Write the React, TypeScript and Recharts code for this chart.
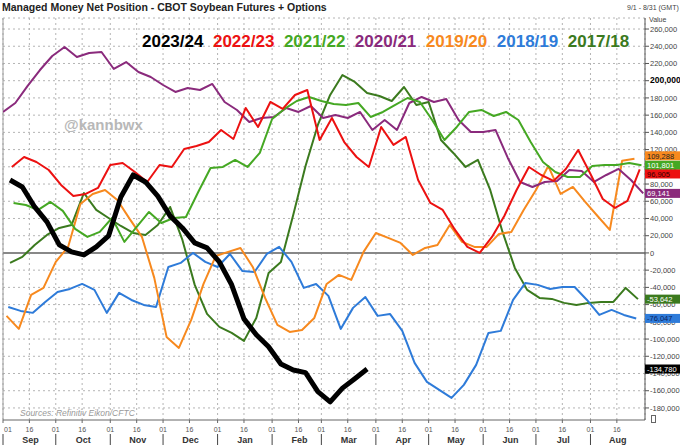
import { CartesianGrid, Legend, Line, LineChart, ReferenceLine, XAxis, YAxis } from "recharts";

// weekly COT reports, each season runs 9/1 - 8/31
const start2324 = "2023-09-05";
const start2223 = "2022-09-06";
const start2122 = "2021-09-07";
const start2021 = "2020-09-01";
const start1920 = "2019-09-03";
const start1819 = "2018-09-04";
const start1718 = "2017-09-05";

const net2324 = [84700, 76600, 53400, 36000, 9300, 1200, -2300, 7000, 19700, 65000, 90500, 82400, 66000, 43000, 29000, 11600, 5800, -10400, -37000, -76600, -95000, -109000, -129000, -136000, -139000, -161000, -173000, -157000, -146000, -134780];
const net2223 = [99800, 111400, 105600, 96300, 78900, 66200, 68500, 75500, 102100, 104500, 94000, 82400, 102100, 99800, 120700, 124200, 128800, 142800, 132300, 168300, 146300, 175300, 167200, 183400, 189200, 131200, 156700, 128800, 111400, 99800, 146300, 125400, 134700, 84700, 58000, 49900, 26700, 7000, 0, 18600, 42900, 73100, 99800, 90500, 83600, 97500, 119600, 91700, 62700, 52200, 60400, 96905];
const net2122 = [58000, 55700, 49900, 59200, 48800, 27900, 18600, 24400, 40600, 12800, 30200, 47600, 34800, 40600, 41800, 70800, 98700, 99800, 108000, 99800, 116100, 155500, 167200, 176400, 181100, 176400, 173000, 171800, 174100, 157900, 163700, 171800, 179900, 175300, 154400, 131200, 146300, 163700, 166000, 159000, 163700, 154400, 128800, 105600, 94000, 88200, 88200, 101000, 102100, 102100, 104500, 101801];
const net2021 = [163700, 174100, 193900, 212400, 228700, 239100, 227500, 232200, 233300, 213600, 221700, 210100, 204300, 195000, 186900, 191500, 189200, 196200, 175300, 166000, 152100, 156700, 157900, 168300, 163700, 170600, 156700, 160200, 156700, 163700, 142800, 154400, 142800, 174100, 181100, 175300, 178800, 154400, 140500, 140500, 142800, 110300, 82400, 76600, 82400, 83600, 96300, 95200, 82400, 90500, 97500, 84700, 69141];
const net1920 = [-73100, -88200, -48800, -40600, -10400, 7000, 56900, 68500, 73100, 61500, 39500, 18600, -29000, -97500, -110300, -77800, -36000, -3500, 1200, 5800, -16300, -52200, -83600, -91700, -89400, -75500, -36000, -25500, -31300, 1200, 23200, 17400, 11600, -2300, 5800, 9300, 32500, 12800, 7000, 7000, 22100, 24400, 49900, 73100, 101000, 68500, 76600, 59200, 42900, 26700, 107000, 109288];
const net1819 = [-62700, -67300, -69600, -56900, -45300, -41800, -36000, -42900, -69600, -46400, -54600, -60400, -62700, -16300, -11600, 0, -10400, -16300, -1200, -20900, -22100, -1200, 7000, -10400, -40600, -36000, -49900, -88200, -63800, -51100, -73100, -70800, -90500, -127700, -149700, -159000, -168300, -153200, -130000, -92900, -90500, -54600, -34800, -37100, -41800, -39500, -39500, -54600, -72000, -66200, -72000, -76047];
const net1718 = [-11600, -4600, 9300, 20900, 29000, 32500, 69600, 49900, 40600, 31300, 23200, 20900, 32500, 53400, 15100, -37100, -70800, -85900, -92900, -102100, -75500, -23200, -10400, 44100, 101000, 148600, 183400, 206600, 198500, 185700, 182200, 176400, 192700, 171800, 175300, 131200, 116100, 99800, 108000, 73100, 24400, -17400, -42900, -52200, -53400, -58000, -60400, -58000, -56900, -56900, -40600, -53642];

const monthNames = ["Sep", "Oct", "Nov", "Dec", "Jan", "Feb", "Mar", "Apr", "May", "Jun", "Jul", "Aug"];
const monthLengths = [30, 31, 30, 31, 31, 28, 31, 30, 31, 30, 31, 31];
const valueTicks = [-180000, -160000, -140000, -120000, -100000, -80000, -60000, -40000, -20000, 0, 20000, 40000, 60000, 80000, 100000, 120000, 140000, 160000, 180000, 200000, 220000, 240000, 260000];

const Y_MIN = -194000;
const Y_MAX = 272800;
const FONT = '"Liberation Sans", Arial, Helvetica, sans-serif';

const monthStarts = monthLengths.map((_, i) => monthLengths.slice(0, i).reduce((a, b) => a + b, 0));
const dayTicks = monthStarts.flatMap((d) => [d, d + 15]);

function dayOfSeason(iso: string) {
  const d = new Date(iso + "T00:00:00Z");
  const sep1 = Date.UTC(d.getUTCFullYear(), 8, 1);
  return Math.round((d.getTime() - sep1) / 86400000);
}

function weekly(start: string, values: number[]) {
  const d0 = dayOfSeason(start);
  return values.map((v, i) => ({ day: d0 + 7 * i, net: v }));
}

const fmt = (v: number) => v.toLocaleString("en-US");

// drawn bottom to top, so 2023/24 ends up on top
const seasons = [
  { name: "2017/18", start: start1718, values: net1718, color: "#3B7A1E", width: 2, tagText: "#fff", tagShift: 0 },
  { name: "2018/19", start: start1819, values: net1819, color: "#2E7BD9", width: 2, tagText: "#0b1f5c", tagShift: 0 },
  { name: "2019/20", start: start1920, values: net1920, color: "#F7891E", width: 2, tagText: "#222", tagShift: -3 },
  { name: "2020/21", start: start2021, values: net2021, color: "#8A2A7C", width: 2, tagText: "#fff", tagShift: 0 },
  { name: "2021/22", start: start2122, values: net2122, color: "#45A823", width: 2, tagText: "#fff", tagShift: 0 },
  { name: "2022/23", start: start2223, values: net2223, color: "#EC1111", width: 2, tagText: "#300", tagShift: 4.5 },
  { name: "2023/24", start: start2324, values: net2324, color: "#000000", width: 5, tagText: "#fff", tagShift: 0 },
];

// latest value of every season, shown as a coloured tag on the value axis
const lastValues = seasons.map((s) => s.values[s.values.length - 1]);
const axisTicks = [...valueTicks, ...lastValues];

function DateTick(props: any) {
  const { x, y, payload } = props;
  const m = monthStarts.indexOf(payload.value);
  if (m >= 0) {
    return (
      <g>
        <text x={m === 0 ? x + 5 : x} y={y + 7} textAnchor="middle" fontSize={7} fill="#555" fontFamily={FONT}>01</text>
        <line x1={x} x2={x} y1={y + 9} y2={y + 20} stroke="#444" />
      </g>
    );
  }
  const mid = monthStarts.indexOf(payload.value - 15);
  return (
    <g>
      <text x={x} y={y + 7} textAnchor="middle" fontSize={7} fill="#555" fontFamily={FONT}>16</text>
      <text x={x + 1} y={y + 18} textAnchor="middle" fontSize={9} fontWeight="bold" fill="#333" fontFamily={FONT}>
        {monthNames[mid]}
      </text>
    </g>
  );
}

function ValueTick(props: any) {
  const { x, y, payload } = props;
  const tagIdx = lastValues.indexOf(payload.value);
  if (tagIdx >= 0) {
    const s = seasons[tagIdx];
    const ty = y + s.tagShift;
    return (
      <g>
        <rect x={x - 5} y={ty - 4.5} width={35} height={9} fill={s.color} />
        <text x={x - 3} y={ty + 3} fontSize={7.5} fill={s.tagText} fontFamily={FONT}>{fmt(payload.value)}</text>
      </g>
    );
  }
  const strong = payload.value === 200000;
  return (
    <text x={x} y={y + 2.7} fontSize={strong ? 8.5 : 7.5} fontWeight={strong ? "bold" : "normal"} fill={strong ? "#000" : "#444"} fontFamily={FONT}>
      {fmt(payload.value)}
    </text>
  );
}

function SeasonLegend(props: any) {
  const items = [...(props.payload || [])].reverse();
  return (
    <div style={{ display: "flex", gap: 9.5, fontFamily: FONT, fontWeight: "bold", fontSize: 17, lineHeight: "17px" }}>
      {items.map((it: any) => (
        <span key={it.value} style={{ color: it.color }}>{it.value}</span>
      ))}
    </div>
  );
}

export default function App() {
  return (
    <div style={{ position: "absolute", left: 0, top: 0, width: 680, height: 446, background: "#fff", fontFamily: FONT }}>
      <div style={{ position: "absolute", left: 2, top: 2, fontSize: 10.5, lineHeight: "10.5px", fontWeight: "bold", color: "#222", whiteSpace: "nowrap" }}>
        Managed Money Net Position - CBOT Soybean Futures + Options
      </div>
      <div style={{ position: "absolute", left: 627, top: 4, fontSize: 7, lineHeight: "7px", color: "#444", whiteSpace: "nowrap" }}>
        9/1 - 8/31 (GMT)
      </div>
      <div style={{ position: "absolute", left: 649, top: 16, fontSize: 7, lineHeight: "7px", color: "#444" }}>Value</div>
      <div style={{ position: "absolute", left: 64, top: 117, fontSize: 15, lineHeight: "15px", fontWeight: "bold", color: "#b8b8b8" }}>@kannbwx</div>
      <div style={{ position: "absolute", left: 20, top: 409, fontSize: 8.5, lineHeight: "8.5px", fontStyle: "italic", color: "#9a9a9a", whiteSpace: "nowrap" }}>
        Sources: Refinitiv Eikon/CFTC
      </div>
      <div style={{ position: "absolute", left: 651, top: 415, width: 5, height: 8, border: "1px solid #666", boxSizing: "border-box" }} />
      <LineChart width={680} height={446} margin={{ top: 18, right: 0, bottom: 0, left: 3 }}>
        <CartesianGrid stroke="#b4b4b4" strokeDasharray="2 3" horizontalValues={valueTicks} />
        <XAxis
          type="number"
          dataKey="day"
          domain={[0, 365]}
          ticks={dayTicks}
          interval={0}
          allowDataOverflow
          height={26}
          tick={<DateTick />}
          tickSize={3}
          tickMargin={2}
          stroke="#666"
        />
        <YAxis
          orientation="right"
          domain={[Y_MIN, Y_MAX]}
          ticks={axisTicks}
          interval={0}
          allowDataOverflow
          width={35}
          tick={<ValueTick />}
          tickSize={4}
          tickMargin={1}
          stroke="#555"
        />
        <ReferenceLine x={0} stroke="#999" ifOverflow="visible" />
        <ReferenceLine y={Y_MAX} stroke="#b4b4b4" strokeDasharray="2 3" ifOverflow="visible" />
        <ReferenceLine y={0} stroke="#888" strokeWidth={2} />
        <Legend
          layout="horizontal"
          verticalAlign="middle"
          align="center"
          content={<SeasonLegend />}
          wrapperStyle={{ top: 33, left: 142, width: "auto", height: "auto" }}
        />
        {seasons.map((s) => (
          <Line
            key={s.name}
            name={s.name}
            data={weekly(s.start, s.values)}
            dataKey="net"
            type="linear"
            stroke={s.color}
            strokeWidth={s.width}
            strokeLinejoin="round"
            dot={false}
            activeDot={false}
            isAnimationActive={false}
          />
        ))}
      </LineChart>
    </div>
  );
}
